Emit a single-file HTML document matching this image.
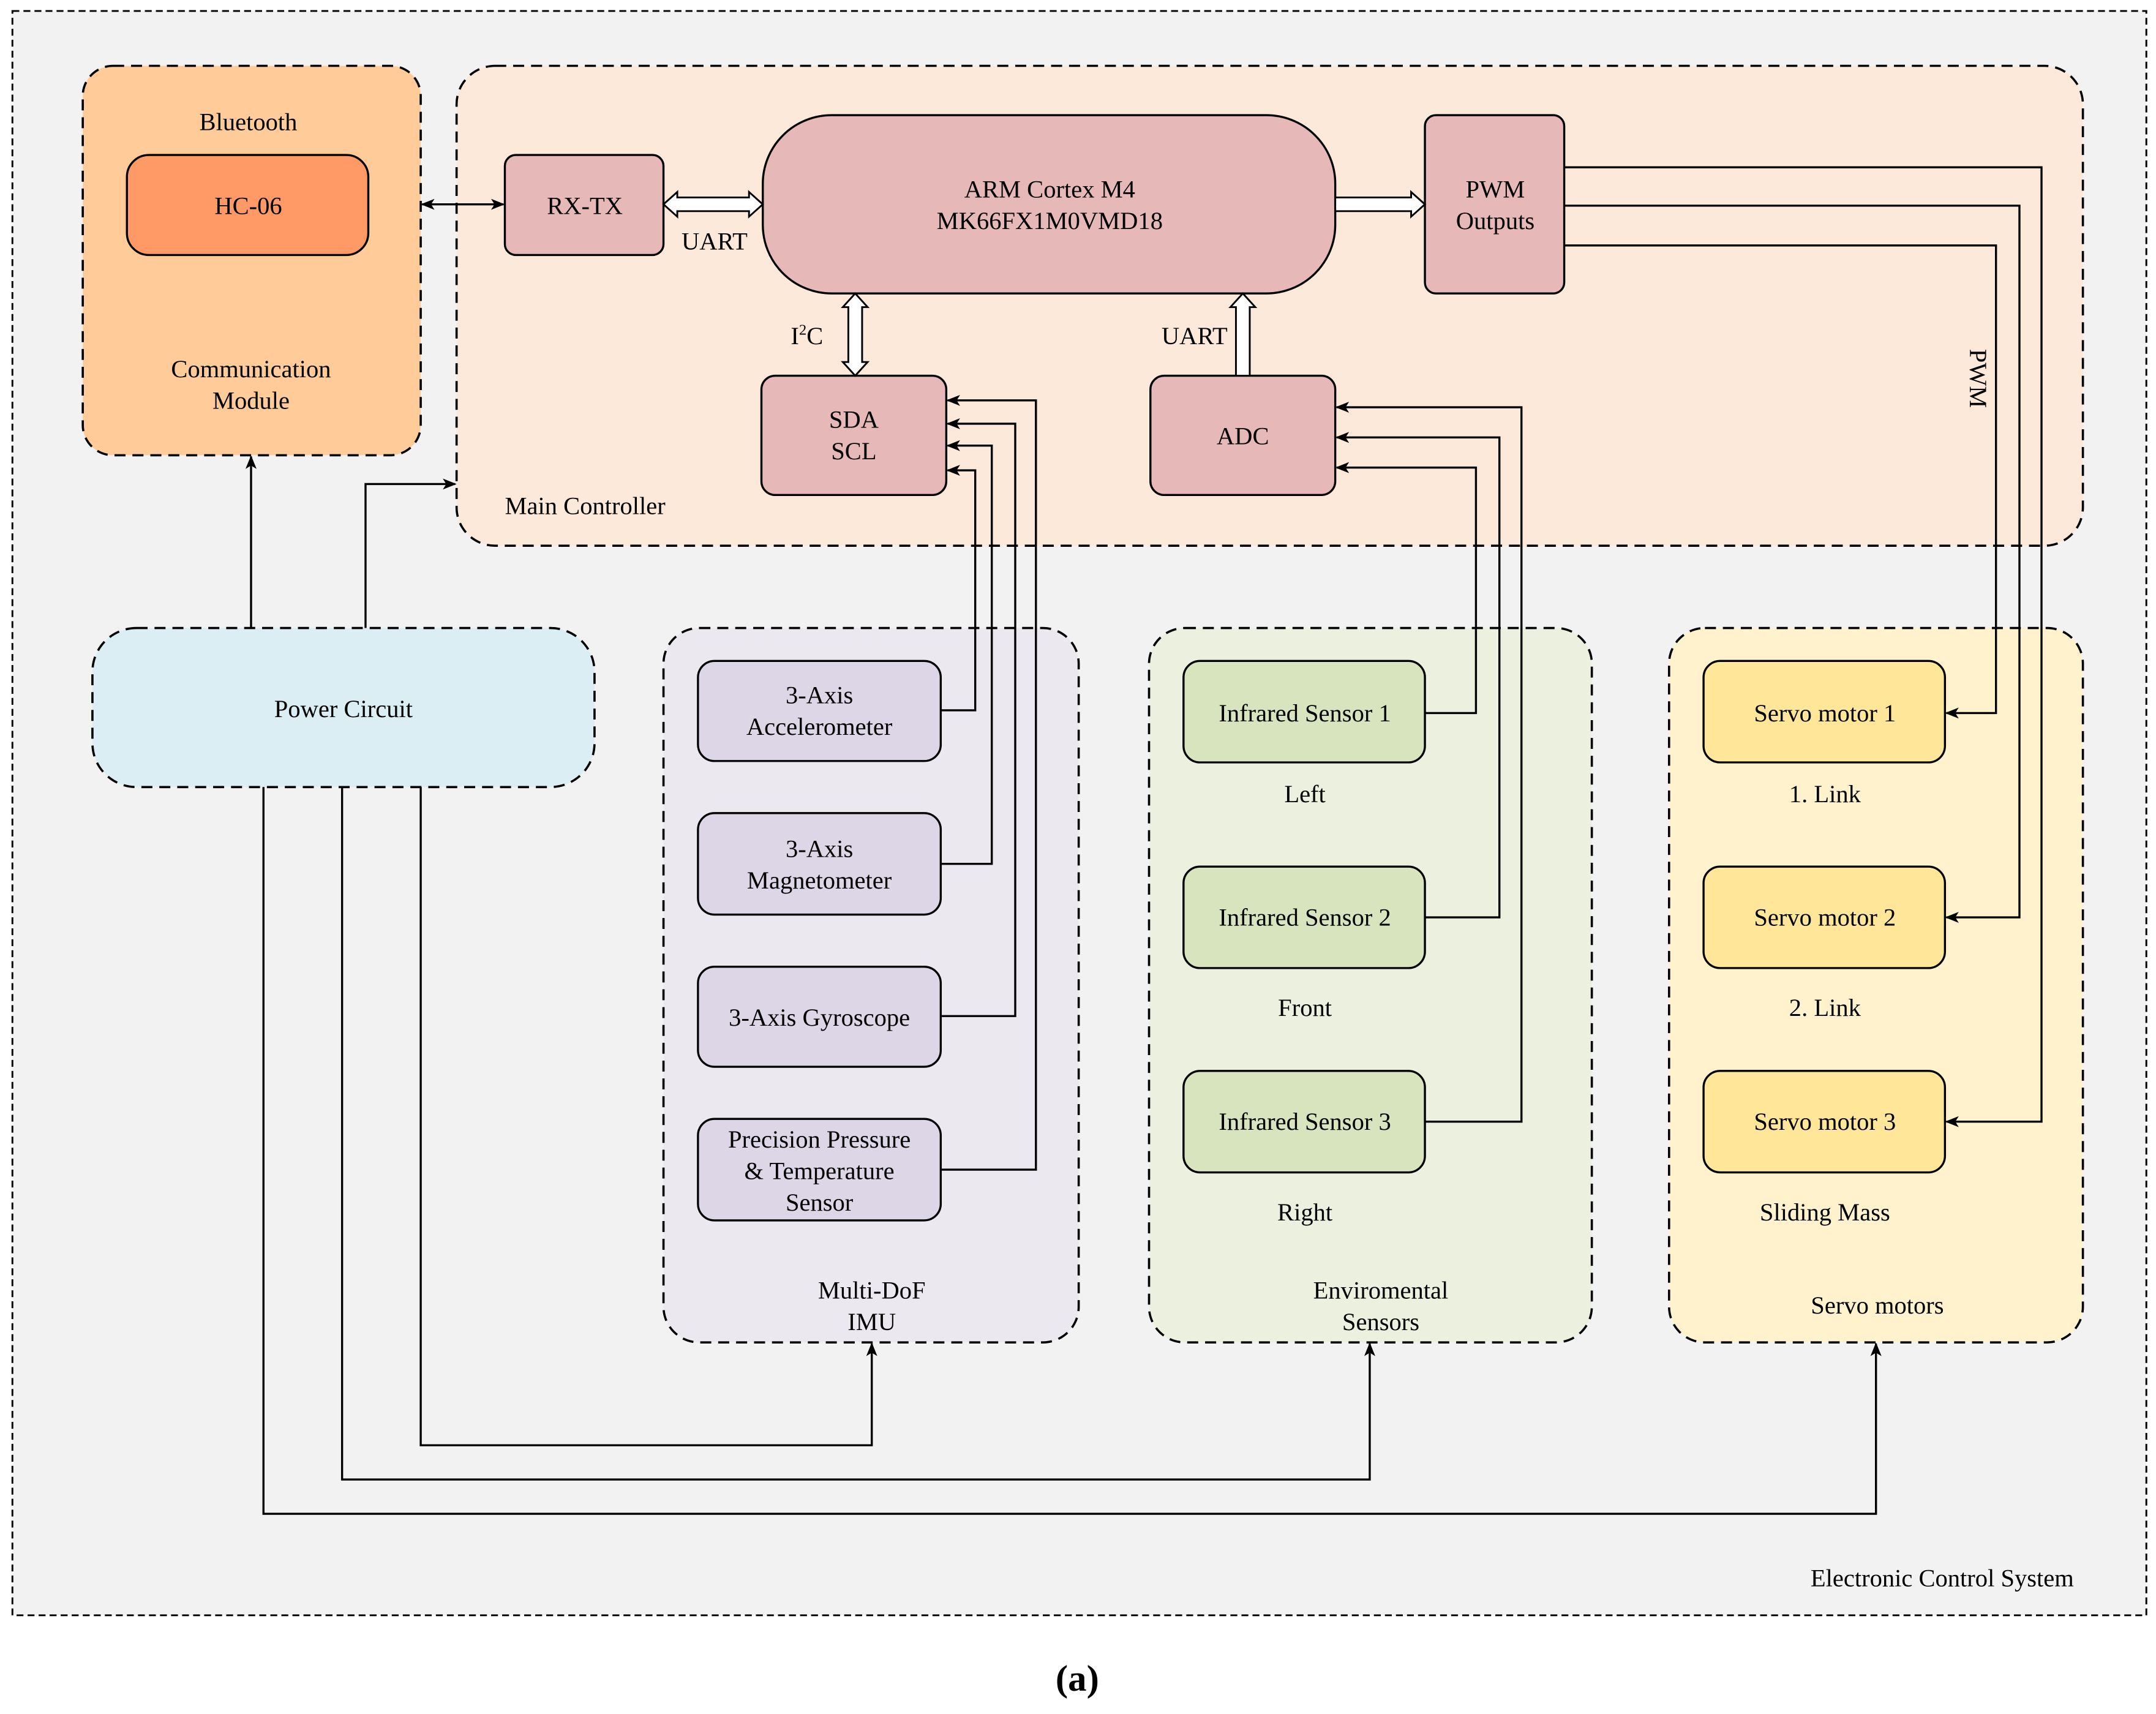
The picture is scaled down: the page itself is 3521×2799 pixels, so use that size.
<!DOCTYPE html>
<html><head><meta charset="utf-8"><style>
html,body{margin:0;padding:0;background:#fff;}
svg{display:block;}
svg text{font-family:"Liberation Serif","DejaVu Serif",serif !important;font-size:18px;fill:#000;}
</style></head><body>
<svg width="3521" height="2799" viewBox="0 0 1563 1250" preserveAspectRatio="none" xmlns="http://www.w3.org/2000/svg" font-family="Liberation Serif, DejaVu Serif, serif">
<defs>
<marker id="a" markerWidth="10" markerHeight="8" refX="9" refY="4" orient="auto" markerUnits="userSpaceOnUse"><path d="M0,0 L10,4 L0,8 L2.5,4 z" fill="#000"/></marker>
<marker id="as" markerWidth="10" markerHeight="8" refX="1" refY="4" orient="auto" markerUnits="userSpaceOnUse"><path d="M10,0 L0,4 L10,8 L7.5,4 z" fill="#000"/></marker>
</defs>
<rect width="1563" height="1250" fill="#fff"/>
<rect x="9" y="8" width="1547" height="1170" fill="#f2f2f2" stroke="#000" stroke-width="1.3" stroke-dasharray="5,3"/>
<g stroke="#000" stroke-width="1.6" stroke-dasharray="8,5">
<rect x="60" y="48" width="245" height="284" rx="22" fill="#ffcc99"/>
<rect x="331" y="48" width="1179" height="350" rx="28" fill="#fde9d9"/>
<rect x="67" y="458" width="364" height="116" rx="32" fill="#dbeef3"/>
<rect x="481" y="458" width="301" height="521" rx="26" fill="#ece8f0"/>
<rect x="833" y="458" width="321" height="521" rx="26" fill="#ebf1de"/>
<rect x="1210" y="458" width="300" height="521" rx="26" fill="#fff2cc"/>
</g>
<g stroke="#000" stroke-width="1.5">
<rect x="92" y="113" width="175" height="73" rx="16" fill="#ff9966"/>
<rect x="366" y="113" width="115" height="73" rx="8" fill="#e6b8b7"/>
<rect x="553" y="84" width="415" height="130" rx="50" fill="#e6b8b7"/>
<rect x="1033" y="84" width="101" height="130" rx="8" fill="#e6b8b7"/>
<rect x="552" y="274" width="134" height="87" rx="10" fill="#e6b8b7"/>
<rect x="834" y="274" width="134" height="87" rx="10" fill="#e6b8b7"/>
<g fill="#dcd6e6">
<rect x="506" y="482" width="176" height="73" rx="12"/>
<rect x="506" y="593" width="176" height="74" rx="12"/>
<rect x="506" y="705" width="176" height="73" rx="12"/>
<rect x="506" y="816" width="176" height="74" rx="12"/>
</g>
<g fill="#d7e4bd">
<rect x="858" y="482" width="175" height="74" rx="12"/>
<rect x="858" y="632" width="175" height="74" rx="12"/>
<rect x="858" y="781" width="175" height="74" rx="12"/>
</g>
<g fill="#ffe699">
<rect x="1235" y="482" width="175" height="74" rx="12"/>
<rect x="1235" y="632" width="175" height="74" rx="12"/>
<rect x="1235" y="781" width="175" height="74" rx="12"/>
</g>
</g>
<g fill="#fff" stroke="#000" stroke-width="1.3">
<path d="M481,149 L491,140 L491,144 L543,144 L543,140 L553,149 L543,158 L543,154 L491,154 L491,158 Z"/>
<path d="M968,144 L1023,144 L1023,140 L1033,149 L1023,158 L1023,154 L968,154 Z"/>
<path d="M620,214 L629,224 L625,224 L625,264 L629,264 L620,274 L611,264 L615,264 L615,224 L611,224 Z"/>
<path d="M901,214 L910,224 L906,224 L906,274 L896,274 L896,224 L892,224 Z"/>
</g>
<g fill="none" stroke="#000" stroke-width="1.5">
<line x1="306" y1="149" x2="365" y2="149" marker-start="url(#as)" marker-end="url(#a)"/>
<polyline points="1134,122 1480,122 1480,818 1411,818" marker-end="url(#a)"/>
<polyline points="1134,150 1464,150 1464,669 1411,669" marker-end="url(#a)"/>
<polyline points="1134,179 1447,179 1447,520 1411,520" marker-end="url(#a)"/>
<polyline points="682,518 707,518 707,343 687,343" marker-end="url(#a)"/>
<polyline points="682,630 719,630 719,325 687,325" marker-end="url(#a)"/>
<polyline points="682,741 736,741 736,309 687,309" marker-end="url(#a)"/>
<polyline points="682,853 751,853 751,292 687,292" marker-end="url(#a)"/>
<polyline points="1033,520 1070,520 1070,341 969,341" marker-end="url(#a)"/>
<polyline points="1033,669 1087,669 1087,319 969,319" marker-end="url(#a)"/>
<polyline points="1033,818 1103,818 1103,297 969,297" marker-end="url(#a)"/>
<polyline points="182,458 182,333" marker-end="url(#a)"/>
<polyline points="265,458 265,353 330,353" marker-end="url(#a)"/>
<polyline points="305,574 305,1054 632,1054 632,980" marker-end="url(#a)"/>
<polyline points="248,574 248,1079 993,1079 993,980" marker-end="url(#a)"/>
<polyline points="191,574 191,1104 1360,1104 1360,980" marker-end="url(#a)"/>
</g>
<g text-anchor="middle" font-family="Liberation Serif, DejaVu Serif, serif">
<text x="180" y="95">Bluetooth</text>
<text x="180" y="156">HC-06</text>
<text x="182" y="275">Communication</text>
<text x="182" y="298">Module</text>
<text x="424" y="156">RX-TX</text>
<text x="761" y="144">ARM Cortex M4</text>
<text x="761" y="167">MK66FX1M0VMD18</text>
<text x="1084" y="144">PWM</text>
<text x="1084" y="167">Outputs</text>
<text x="518" y="182">UART</text>
<text x="585" y="251">I<tspan font-size="11" dy="-7">2</tspan><tspan dy="7">C</tspan></text>
<text x="866" y="251">UART</text>
<text x="619" y="312">SDA</text>
<text x="619" y="335">SCL</text>
<text x="901" y="324">ADC</text>
<text x="249" y="523">Power Circuit</text>
<text x="594" y="513">3-Axis</text>
<text x="594" y="536">Accelerometer</text>
<text x="594" y="625">3-Axis</text>
<text x="594" y="648">Magnetometer</text>
<text x="594" y="748">3-Axis Gyroscope</text>
<text x="594" y="837">Precision Pressure</text>
<text x="594" y="860">&amp; Temperature</text>
<text x="594" y="883">Sensor</text>
<text x="632" y="947">Multi-DoF</text>
<text x="632" y="970">IMU</text>
<text x="946" y="526">Infrared Sensor 1</text>
<text x="946" y="675">Infrared Sensor 2</text>
<text x="946" y="824">Infrared Sensor 3</text>
<text x="946" y="585">Left</text>
<text x="946" y="741">Front</text>
<text x="946" y="890">Right</text>
<text x="1001" y="947">Enviromental</text>
<text x="1001" y="970">Sensors</text>
<text x="1323" y="526">Servo motor 1</text>
<text x="1323" y="675">Servo motor 2</text>
<text x="1323" y="824">Servo motor 3</text>
<text x="1323" y="585">1. Link</text>
<text x="1323" y="741">2. Link</text>
<text x="1323" y="890">Sliding Mass</text>
<text x="1361" y="958">Servo motors</text>
<text x="1408" y="1157">Electronic Control System</text>
<text x="781" y="1233" style="font-size:27px;font-weight:bold">(a)</text>
</g>
<text x="366" y="375" font-family="Liberation Serif, DejaVu Serif, serif">Main Controller</text>
<text x="1428" y="276" transform="rotate(90 1428 276)" text-anchor="middle" font-family="Liberation Serif, DejaVu Serif, serif">PWM</text>
</svg>
</body></html>
